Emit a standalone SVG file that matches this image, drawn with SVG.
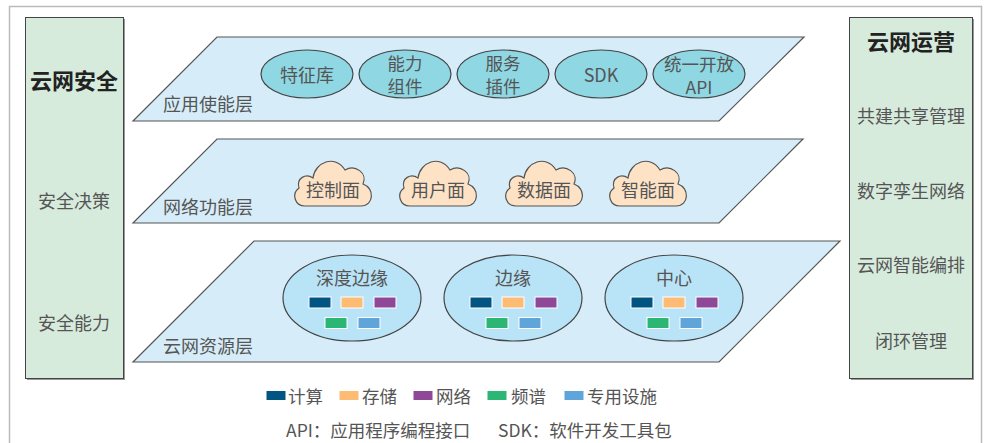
<svg xmlns="http://www.w3.org/2000/svg" width="987" height="443" viewBox="0 0 987 443">
<style>
text{font-family:"Noto Sans CJK SC","Noto Sans",sans-serif;fill:#555;font-size:18px;text-anchor:middle;dominant-baseline:central}
.title{fill:#222;font-weight:bold;font-size:22px}
.lbl{text-anchor:start}
.two{font-size:17.5px}
.panel{fill:#d7ebdd;stroke:#444;stroke-width:1}
.shadow{fill:#999}
.layer{fill:#d6edf9;stroke:#555;stroke-width:1.2}
.app{fill:#8fd7e3;stroke:#444;stroke-width:1.2}
.res{fill:#b9e3f7;stroke:#444;stroke-width:1.2}
.cloud{fill:#fde2c6;stroke:#555;stroke-width:1.2}
.leg{font-size:17.5px;text-anchor:start}
.c1{fill:#025482;stroke:#fff;stroke-width:1}
.c2{fill:#fdbb74;stroke:#fff;stroke-width:1}
.c3{fill:#8e4897;stroke:#fff;stroke-width:1}
.c4{fill:#2bb673;stroke:#fff;stroke-width:1}
.c5{fill:#5fa5d9;stroke:#fff;stroke-width:1}
</style>
<defs>
<path id="cloudShape" d="M -28 22 C -38 22 -42 10 -34 4 C -37 -6 -27 -11 -20 -6 C -18 -22 2 -30 12 -14 C 22 -20 35 -11 30 0 C 42 4 41 22 28 22 Z"/>
<g id="chips">
<rect class="c1" x="-43" y="-1" width="22" height="11"/>
<rect class="c2" x="-11" y="-1" width="22" height="11"/>
<rect class="c3" x="22" y="-1" width="22" height="11"/>
<rect class="c4" x="-27" y="19.5" width="22" height="11"/>
<rect class="c5" x="6" y="19.5" width="22" height="11"/>
</g>
</defs>
<rect width="987" height="443" fill="#fff"/>
<rect x="9.5" y="6.5" width="972" height="450" fill="none" stroke="#bbb" stroke-width="1.5"/>

<g id="left-panel">
<rect class="shadow" x="27" y="19" width="98" height="361"/>
<rect class="panel" x="25.5" y="17.5" width="98" height="361"/>
<text class="title" x="74" y="79">云网安全</text>
<text x="74" y="200">安全决策</text>
<text x="74" y="322">安全能力</text>
</g>

<g id="right-panel">
<rect class="shadow" x="851" y="19" width="123" height="361"/>
<rect class="panel" x="849.5" y="17.5" width="123" height="361"/>
<text class="title" x="911" y="40">云网运营</text>
<text x="911" y="115">共建共享管理</text>
<text x="911" y="190">数字孪生网络</text>
<text x="911" y="264">云网智能编排</text>
<text x="911" y="340">闭环管理</text>
</g>

<g id="layer-app">
<polygon class="layer" points="217,37 804,37 719,121 133,121"/>
<text class="lbl" x="163" y="103">应用使能层</text>
<g id="n-tezheng"><ellipse class="app" cx="307" cy="74" rx="46" ry="24"/><text x="307" y="74">特征库</text></g>
<g id="n-nengli"><ellipse class="app" cx="405" cy="74" rx="46" ry="24"/><text class="two" x="405" y="62">能力<tspan x="405" dy="23">组件</tspan></text></g>
<g id="n-fuwu"><ellipse class="app" cx="503" cy="74" rx="46" ry="24"/><text class="two" x="503" y="62">服务<tspan x="503" dy="23">插件</tspan></text></g>
<g id="n-sdk"><ellipse class="app" cx="601" cy="74" rx="46" ry="24"/><text x="601" y="74">SDK</text></g>
<g id="n-api"><ellipse class="app" cx="699" cy="74" rx="46" ry="24"/><text class="two" x="699" y="63">统一开放<tspan x="699" dy="23">API</tspan></text></g>
</g>

<g id="layer-net">
<polygon class="layer" points="217,139 803,139 719,223 133,223"/>
<text class="lbl" x="163" y="206">网络功能层</text>
<g id="n-kongzhi"><use href="#cloudShape" class="cloud" x="333" y="184"/><text x="333" y="189">控制面</text></g>
<g id="n-yonghu"><use href="#cloudShape" class="cloud" x="438" y="184"/><text x="438" y="189">用户面</text></g>
<g id="n-shuju"><use href="#cloudShape" class="cloud" x="544" y="184"/><text x="544" y="189">数据面</text></g>
<g id="n-zhineng"><use href="#cloudShape" class="cloud" x="648" y="184"/><text x="648" y="189">智能面</text></g>
</g>

<g id="layer-res">
<polygon class="layer" points="254,241 840,241 719,362 133,362"/>
<text class="lbl" x="163" y="345">云网资源层</text>
<g id="n-shendu"><ellipse class="res" cx="352" cy="298" rx="69" ry="43"/><text x="352" y="277">深度边缘</text><use href="#chips" x="352" y="298"/></g>
<g id="n-bianyuan"><ellipse class="res" cx="513" cy="298" rx="69" ry="43"/><text x="513" y="277">边缘</text><use href="#chips" x="513" y="298"/></g>
<g id="n-zhongxin"><ellipse class="res" cx="674" cy="298" rx="69" ry="43"/><text x="674" y="277">中心</text><use href="#chips" x="674" y="298"/></g>
</g>

<g id="connectors"></g>

<g id="legend">
<rect class="c1" x="266" y="390.5" width="20" height="10" stroke="none"/><text class="leg" x="288" y="395">计算</text>
<rect class="c2" x="339" y="390.5" width="20" height="10" stroke="none"/><text class="leg" x="362" y="395">存储</text>
<rect class="c3" x="413" y="390.5" width="20" height="10" stroke="none"/><text class="leg" x="436" y="395">网络</text>
<rect class="c4" x="487" y="390.5" width="20" height="10" stroke="none"/><text class="leg" x="511" y="395">频谱</text>
<rect class="c5" x="564" y="390.5" width="20" height="10" stroke="none"/><text class="leg" x="587" y="395">专用设施</text>
<text class="leg" x="286" y="429">API：应用程序编程接口</text>
<text class="leg" x="498" y="429">SDK：软件开发工具包</text>
</g>
</svg>
